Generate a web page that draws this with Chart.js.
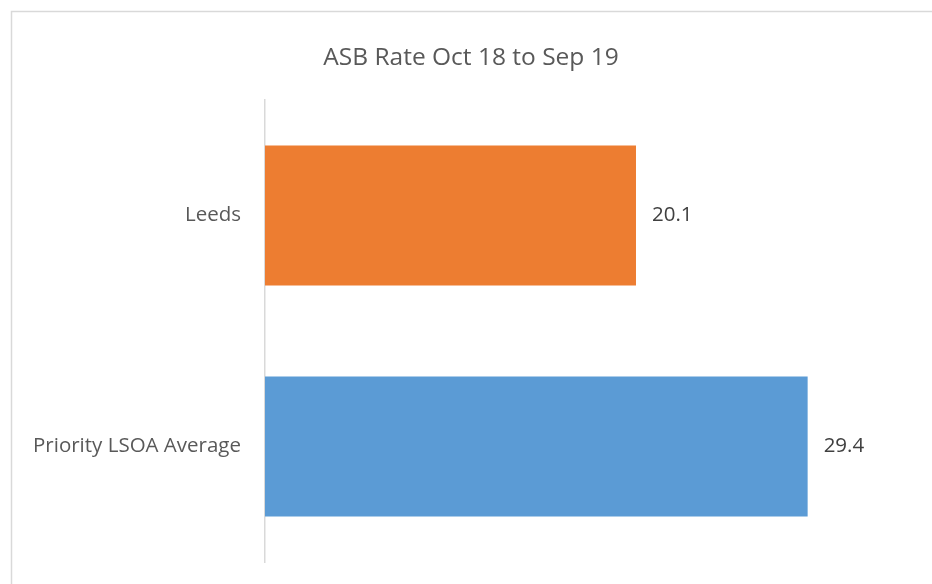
<!DOCTYPE html>
<html>
<head>
<meta charset="utf-8">
<script src="https://cdn.jsdelivr.net/npm/chart.js@4.4.0/dist/chart.umd.min.js"></script>
<style>
  html, body { margin: 0; padding: 0; background: #fff; }
  #wrap { width: 932px; height: 584px; position: relative; }
</style>
</head>
<body>
<div id="wrap"><canvas id="myChart" width="932" height="584"></canvas></div>
<script>
var chartTitle = "ASB Rate Oct 18 to Sep 19";
var categories = ["Leeds", "Priority LSOA Average"];
var rates = [20.1, 29.4];
var barColors = ["#ED7D31", "#5B9BD5"];
var axisMax = 35;

// frame and title drawn by hand so they sit where the original does
var framePlugin = {
    id: "frame",
    beforeDraw: function(chart){
        var ctx = chart.ctx;
        ctx.save();
        ctx.fillStyle = "#ffffff";
        ctx.fillRect(0, 0, chart.width, chart.height);
        ctx.strokeStyle = "#d9d9d9";
        ctx.lineWidth = 1.5;
        ctx.strokeRect(11.5, 11.5, chart.width + 20, chart.height + 20);
        ctx.fillStyle = "#595959";
        ctx.font = "24.5px 'Open Sans'";
        ctx.textAlign = "center";
        ctx.textBaseline = "middle";
        ctx.fillText(chartTitle, 471, 58);
        ctx.restore();
    }
};

var valueLabels = {
    id: "valueLabels",
    afterDatasetsDraw: function(chart){
        var ctx = chart.ctx;
        var meta = chart.getDatasetMeta(0);
        ctx.save();
        ctx.fillStyle = "#404040";
        ctx.font = "20.5px 'Open Sans'";
        ctx.textAlign = "left";
        ctx.textBaseline = "middle";
        meta.data.forEach(function(bar, i){
            ctx.fillText(rates[i].toFixed(1), bar.x + 16, bar.y);
        });
        ctx.restore();
    }
};

function showChart(){
    new Chart("myChart", {
        type: "bar",
        data: {
            labels: categories,
            datasets: [{
                data: rates,
                backgroundColor: barColors,
                borderWidth: 0,
                categoryPercentage: 1,
                barPercentage: 0.606
            }]
        },
        options: {
            indexAxis: "y",
            responsive: false,
            animation: false,
            layout: { padding: { top: 100, bottom: 22, right: 21, left: 0 } },
            plugins: {
                legend: { display: false },
                title: { display: false },
                tooltip: { enabled: false }
            },
            scales: {
                x: { display: false, min: 0, max: axisMax },
                y: {
                    grid: { display: false, drawTicks: false },
                    border: { display: true, color: "#d9d9d9", width: 1.5 },
                    ticks: {
                        color: "#595959",
                        font: { family: "'Open Sans'", size: 20.5 },
                        padding: 24
                    },
                    afterFit: function(scale){
                        scale.width = 265;
                        scale.paddingTop = 0;
                        scale.paddingBottom = 0;
                    }
                }
            }
        },
        plugins: [framePlugin, valueLabels]
    });
}

window.addEventListener("load", showChart);
</script>
</body>
</html>
